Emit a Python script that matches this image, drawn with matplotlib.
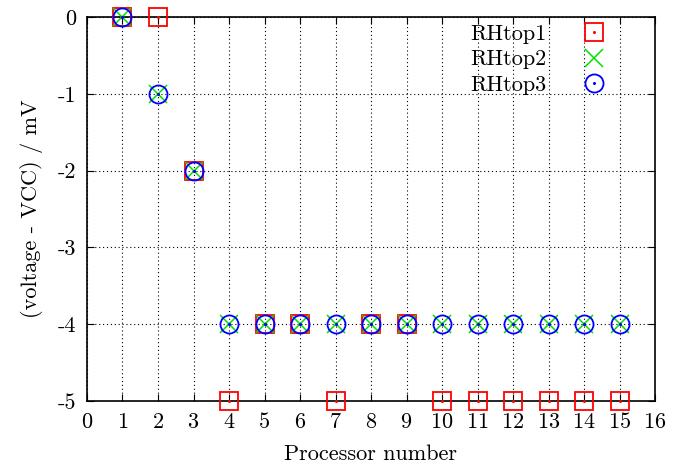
import matplotlib
matplotlib.use("Agg")
import matplotlib.pyplot as plt
from matplotlib.legend_handler import HandlerTuple

plt.rcParams['font.family'] = ['cmr10', 'DejaVu Serif']
plt.rcParams['axes.unicode_minus'] = False
plt.rcParams['axes.formatter.use_mathtext'] = True

processors = list(range(1, 16))
rhtop1 = [0, 0, -2, -5, -4, -4, -5, -4, -4, -5, -5, -5, -5, -5, -5]
rhtop2 = [0, -1, -2, -4, -4, -4, -4, -4, -4, -4, -4, -4, -4, -4, -4]
rhtop3 = [0, -1, -2, -4, -4, -4, -4, -4, -4, -4, -4, -4, -4, -4, -4]
labels = ["RHtop1", "RHtop2", "RHtop3"]

fig = plt.figure(figsize=(6.85, 4.68), dpi=100)
ax = fig.add_axes([87/685, 1-401/468, (655-87)/685, (401-17)/468])

ms = 13
s1, = ax.plot(processors, rhtop1, ls='none', marker='s', ms=ms, mfc='none', mec='#ff0000', mew=1.3, clip_on=False, zorder=3)
d1, = ax.plot(processors, rhtop1, ls='none', marker='o', ms=1.2, color='#ff0000', clip_on=False, zorder=3)
s2, = ax.plot(processors, rhtop2, ls='none', marker='x', ms=ms, mec='#00e000', mew=1.1, clip_on=False, zorder=4)
s3, = ax.plot(processors, rhtop3, ls='none', marker='o', ms=ms, mfc='none', mec='#0000ff', mew=1.3, clip_on=False, zorder=5)
d3, = ax.plot(processors, rhtop3, ls='none', marker='o', ms=1.2, color='#0000ff', clip_on=False, zorder=5)

ax.set_xlim(0, 16)
ax.set_ylim(-5, 0)
ax.set_xticks(range(0, 17))
ax.set_yticks(range(-5, 1))
ax.set_yticklabels([str(v) for v in range(-5, 1)])
ax.grid(True, color='black', ls=(0, (1, 2.5)), lw=0.8)
ax.tick_params(direction='in', top=True, right=True, length=5, labelsize=16, pad=8)
for sp in ax.spines.values():
    sp.set_linewidth(1.2)
ax.set_xlabel("Processor number", fontsize=16, labelpad=9)
ax.set_ylabel("(voltage - VCC) / mV", fontsize=16, labelpad=10)

leg = ax.legend([(s1, d1), s2, (s3, d3)], labels, handler_map={tuple: HandlerTuple(ndivide=1)},
                loc='upper right', bbox_to_anchor=(0.953, 1.027), frameon=False, markerfirst=False,
                prop={'family': 'cmr10', 'size': 16}, handlelength=1.5, handletextpad=1.4,
                labelspacing=0.26, borderpad=0.3)

fig.savefig("out.png", dpi=100)
